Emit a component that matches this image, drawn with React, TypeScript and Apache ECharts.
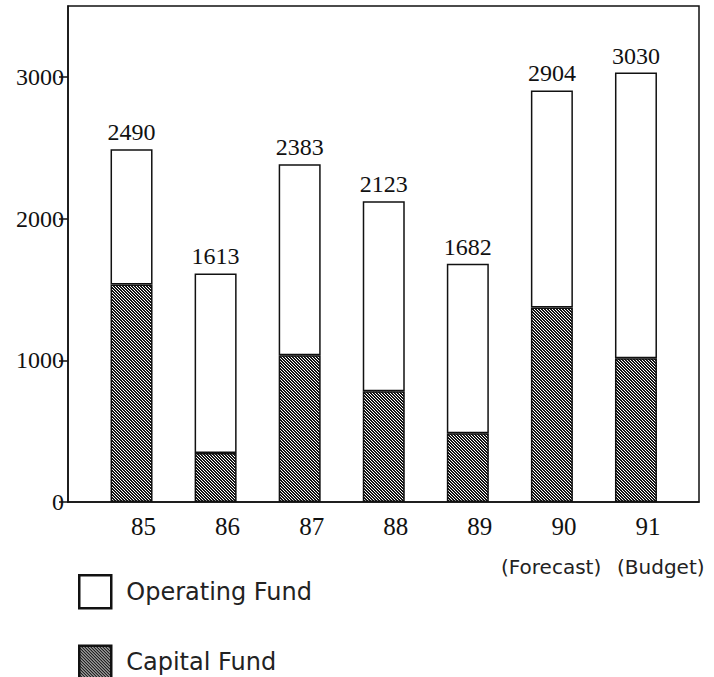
import React, { useEffect, useRef } from 'react';
import * as echarts from 'echarts';

// Fiscal years on the category axis
const years = ['85', '86', '87', '88', '89', '90', '91'];
// Total fund per year (printed above each stacked bar)
const totals = [2490, 1613, 2383, 2123, 1682, 2904, 3030];
// Capital fund portion (bottom, hatched segment)
const capitalFund = [1535, 345, 1035, 782, 486, 1373, 1014];
// Operating fund portion (top, open segment)
const operatingFund = [955, 1268, 1348, 1341, 1196, 1531, 2016];
// Value-axis tick labels
const yTicks = [0, 1000, 2000, 3000];
// Notes under the last two years
const notes = ['(Forecast)', '(Budget)'];

const SERIF = "'Liberation Serif', 'Times New Roman', serif";
const SANS = "'DejaVu Sans', 'Liberation Sans', sans-serif";

// Small tile of diagonal white dots on near-black, repeated as a hatch fill
function makeHatch(): HTMLCanvasElement {
  const c = document.createElement('canvas');
  c.width = 3;
  c.height = 3;
  const ctx = c.getContext('2d')!;
  ctx.fillStyle = '#141414';
  ctx.fillRect(0, 0, 3, 3);
  ctx.fillStyle = '#ffffff';
  for (let i = 0; i < 3; i++) ctx.fillRect(i, i, 1, 1);
  return c;
}

export default function App() {
  const ref = useRef<HTMLDivElement>(null);

  useEffect(() => {
    if (!ref.current) return;
    const chart = echarts.init(ref.current, undefined, { renderer: 'svg' });
    const hatch = { image: makeHatch(), repeat: 'repeat' as const };

    chart.setOption({
      animation: false,
      backgroundColor: '#ffffff',
      grid: [
        {
          left: 68,
          top: 6,
          width: 631,
          height: 496,
          show: true,
          borderColor: '#111',
          borderWidth: 1.5,
          backgroundColor: 'transparent',
        },
        { left: 89.5, top: 6, width: 588.5, height: 496 },
      ],
      xAxis: [
        {
          type: 'category',
          gridIndex: 0,
          data: years,
          axisLine: { show: true, lineStyle: { color: '#111', width: 1.5 } },
          axisTick: { show: false },
          axisLabel: { show: false },
          splitLine: { show: false },
        },
        {
          type: 'category',
          gridIndex: 1,
          data: years,
          axisLine: { show: false },
          axisTick: { show: false },
          splitLine: { show: false },
          axisLabel: {
            fontFamily: SERIF,
            fontSize: 25,
            color: '#111',
            margin: 12,
            padding: [0, 0, 0, 24],
          },
        },
      ],
      yAxis: [
        {
          type: 'value',
          gridIndex: 0,
          min: 0,
          max: 3500,
          axisLine: { show: true, lineStyle: { color: '#111', width: 1.5 } },
          axisTick: {
            show: true,
            length: 9,
            customValues: yTicks,
            lineStyle: { color: '#111', width: 1.5 },
          },
          axisLabel: {
            customValues: yTicks,
            formatter: (v: number) => String(v),
            fontFamily: SERIF,
            fontSize: 24,
            color: '#111',
            margin: 4,
          },
          splitLine: { show: false },
        },
        { type: 'value', gridIndex: 1, min: 0, max: 3500, show: false },
      ],
      legend: {
        data: ['Operating Fund', 'Capital Fund'],
        orient: 'vertical',
        left: 78,
        top: 574,
        height: 110,
        padding: 0,
        icon: 'rect',
        itemWidth: 32,
        itemHeight: 33,
        itemGap: 35,
        itemStyle: { borderColor: '#111', borderWidth: 2.5 },
        textStyle: {
          fontFamily: SANS,
          fontSize: 24,
          color: '#222',
          padding: [0, 0, 0, 10],
        },
      },
      graphic: [
        {
          type: 'text',
          x: 501,
          y: 567,
          style: {
            text: notes[0],
            font: `20px ${SANS}`,
            fill: '#222',
            verticalAlign: 'middle',
          },
        },
        {
          type: 'text',
          x: 617,
          y: 567,
          style: {
            text: notes[1],
            font: `20px ${SANS}`,
            fill: '#222',
            verticalAlign: 'middle',
          },
        },
      ],
      series: [
        {
          name: 'Capital Fund',
          type: 'bar',
          stack: 'fund',
          xAxisIndex: 1,
          yAxisIndex: 1,
          barWidth: 42,
          data: capitalFund,
          itemStyle: { color: hatch, borderColor: '#111', borderWidth: 1.5 },
        },
        {
          name: 'Operating Fund',
          type: 'bar',
          stack: 'fund',
          xAxisIndex: 1,
          yAxisIndex: 1,
          barWidth: 42,
          data: operatingFund,
          itemStyle: { color: '#ffffff', borderColor: '#111', borderWidth: 1.5 },
          label: {
            show: true,
            position: 'top',
            distance: 5,
            formatter: (p: any) => String(totals[p.dataIndex]),
            fontFamily: SERIF,
            fontSize: 24,
            color: '#111',
          },
        },
      ],
    });

    return () => chart.dispose();
  }, []);

  return (
    <div
      ref={ref}
      style={{ position: 'absolute', left: 0, top: 0, width: 714, height: 677 }}
    />
  );
}
